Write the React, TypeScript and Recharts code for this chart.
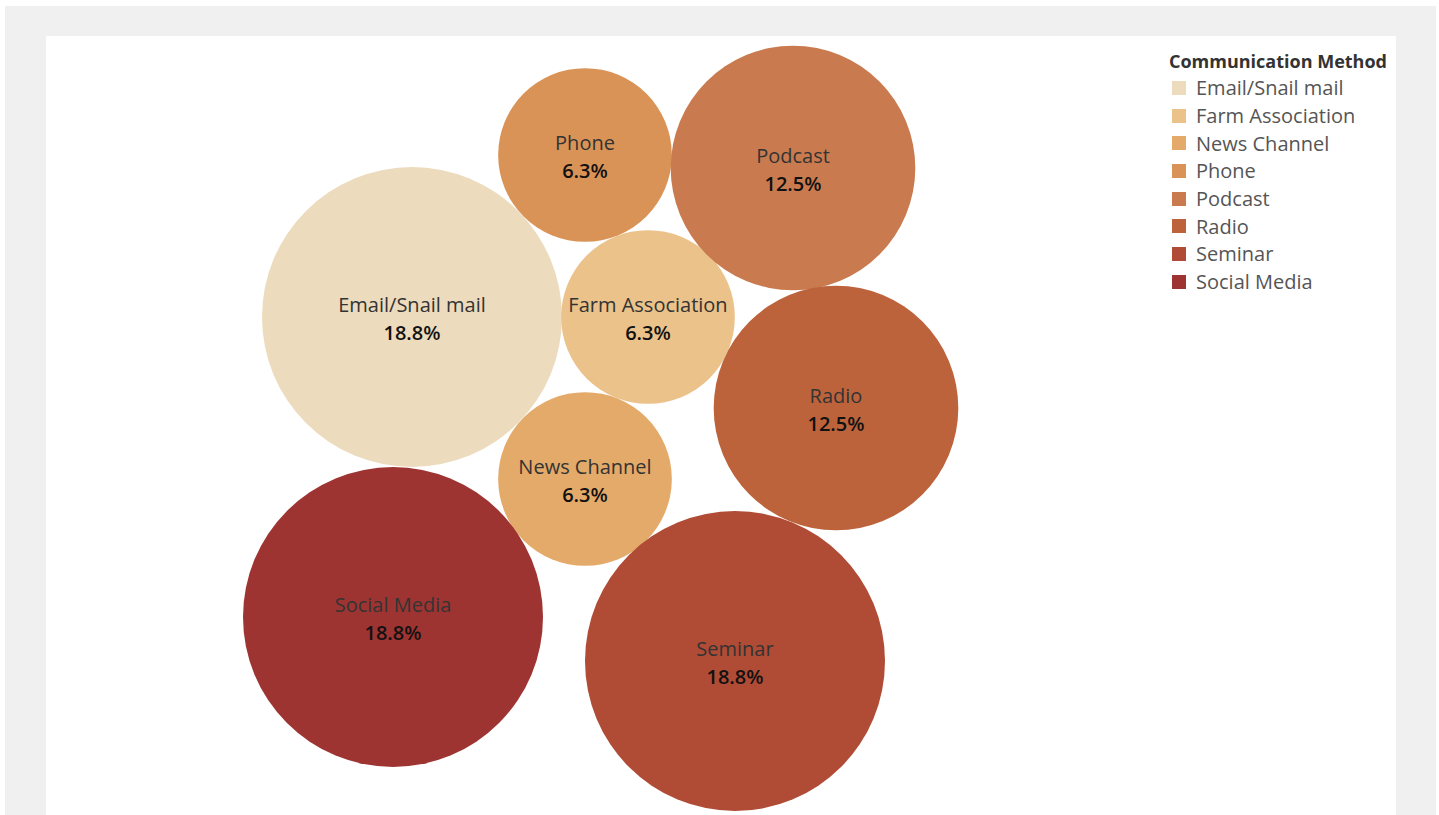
import React from "react";
import { ScatterChart, Scatter, XAxis, YAxis, ZAxis } from "recharts";

const methods = ["Email/Snail mail", "Farm Association", "News Channel", "Phone", "Podcast", "Radio", "Seminar", "Social Media"];
const shares = [18.8, 6.3, 6.3, 6.3, 12.5, 12.5, 18.8, 18.8];
// packed-bubble layout positions (layout units)
const posX = [366, 602, 539, 539, 747, 790, 689, 347];
const posY = [281, 281, 443, 119, 132, 372, 625, 581];
const colors = ["#EDDBBD", "#EBC28A", "#E4AA69", "#DA9356", "#C97B4F", "#BD633C", "#B04B35", "#9E3432"];

const W = 1350;
const H = 785;
const FONT = "'Open Sans', 'Noto Sans', sans-serif";

const Bubble = (props: any) => {
  const { cx, cy, width, fill, payload } = props;
  const r = width / 2;
  return (
    <g>
      <circle cx={cx} cy={cy} r={r} fill={fill} />
      <text x={cx} y={cy - 13} textAnchor="middle" dominantBaseline="central" fontFamily={FONT} fontSize={20} fill="#333">
        {payload.name}
      </text>
      <text x={cx} y={cy + 15} textAnchor="middle" dominantBaseline="central" fontFamily={FONT} fontSize={20} fontWeight={600} fill="#111">
        {payload.share.toFixed(1) + "%"}
      </text>
    </g>
  );
};

const LegendBox = () => (
  <div style={{ position: "absolute", left: 1123, top: 11, width: 240, fontFamily: FONT }}>
    <div style={{ fontSize: 18, fontWeight: 700, color: "#333", height: 27, lineHeight: "28px" }}>Communication Method</div>
    {methods.map((m, i) => (
      <div key={m} style={{ display: "flex", alignItems: "center", height: 27.7 }}>
        <span style={{ width: 14, height: 14, background: colors[i], display: "inline-block", marginLeft: 3, marginRight: 10 }} />
        <span style={{ fontSize: 20, color: "#555" }}>{m}</span>
      </div>
    ))}
  </div>
);

export default function App() {
  return (
    <div style={{ position: "absolute", left: 5, top: 6, width: 1431, height: 809, background: "#f0f0f0" }}>
      <div style={{ position: "absolute", left: 41, top: 30, width: W, height: H, background: "#fff" }}>
        <ScatterChart width={W} height={H} margin={{ top: 0, right: 0, bottom: 0, left: 0 }}>
          <XAxis type="number" dataKey="x" domain={[0, W]} hide />
          <YAxis type="number" dataKey="y" domain={[0, H]} reversed hide />
          <ZAxis type="number" dataKey="share" domain={[0, 18.8]} range={[0, Math.PI * 150 * 150]} />
          {methods.map((m, i) => (
            <Scatter
              key={m}
              name={m}
              data={[{ name: m, share: shares[i], x: posX[i], y: posY[i] }]}
              fill={colors[i]}
              shape={<Bubble />}
              isAnimationActive={false}
            />
          ))}
        </ScatterChart>
        <LegendBox />
      </div>
    </div>
  );
}
